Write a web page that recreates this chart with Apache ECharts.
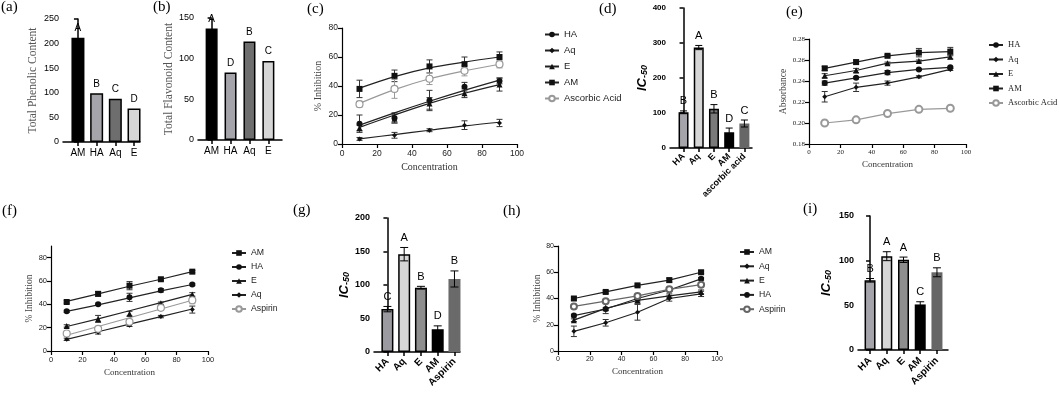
<!DOCTYPE html>
<html><head><meta charset="utf-8">
<script src="https://cdn.jsdelivr.net/npm/echarts@6/dist/echarts.min.js"></script>
<style>html,body{margin:0;padding:0;background:#fff}#c{width:1059px;height:394px}</style>
</head><body><div id="c"></div>
<script>
// ---------- DATA ----------
const concentrations = [10, 30, 50, 70, 90];

// (a) Total phenolic content
const aCats = ['AM', 'HA', 'Aq', 'E'];
const aVals = [212, 99, 88, 68];
const aLetters = ['A', 'B', 'C', 'D'];
// (b) Total flavonoid content
const bCats = ['AM', 'HA', 'Aq', 'E'];
const bVals = [137, 83, 121, 97];
const bLetters = ['A', 'D', 'B', 'C'];
// (c) % inhibition: observed points and fitted curves
const cHA = [14, 18, 30, 39.5, 43.5];      const cHAErr = [6, 3.5, 7, 3, 2];
const cAq = [3.5, 6, 9.5, 13, 14.5];       const cAqErr = [1, 2, 1, 3, 2.5];
const cE = [11, 17.5, 28, 35, 41];         const cEErr = [2, 3, 4, 3, 4.5];
const cAM = [38, 47, 53.5, 55, 60];        const cAMErr = [6, 4, 4.5, 5, 3.5];
const cAsc = [27.5, 38, 45, 50.5, 55];     const cAscErr = [2, 6.5, 4, 3.5, 2.5];
const cHAFit = [13, 21.5, 29.5, 37, 44];
const cAqFit = [3.5, 6.5, 9.5, 12.5, 15];
const cEFit = [11.5, 20, 28, 35, 41];
const cAMFit = [38.5, 46.5, 52.5, 56.5, 60];
const cAscFit = [28, 37.5, 45, 50.5, 55];
// (d) IC50
const dCats = ['HA', 'Aq', 'E', 'AM', 'ascorbic acid'];
const dVals = [102, 287, 112, 45, 70];
const dErr = [4, 6, 12, 12, 10];
const dLetters = ['B', 'A', 'B', 'D', 'C'];
// (e) absorbance
const eHA = [0.238, 0.243, 0.248, 0.251, 0.253];  const eHAErr = [0.002, 0.001, 0.002, 0.001, 0.001];
const eAq = [0.225, 0.234, 0.238, 0.244, 0.251];  const eAqErr = [0.005, 0.004, 0.002, 0.001, 0.001];
const eE = [0.245, 0.250, 0.257, 0.259, 0.263];   const eEErr = [0.002, 0.002, 0.001, 0.001, 0.002];
const eAM = [0.252, 0.258, 0.264, 0.267, 0.268];  const eAMErr = [0.002, 0.002, 0.001, 0.004, 0.004];
const eAsc = [0.200, 0.203, 0.209, 0.213, 0.214]; const eAscErr = [0.001, 0.001, 0.001, 0.002, 0.001];
// (f) % inhibition: observed points and fitted lines
const fAM = [42, 49, 56, 61.5, 68];        const fAMErr = [1, 2, 3.5, 1, 1];
const fHA = [34, 40, 46, 52, 57];          const fHAErr = [1, 1, 3.5, 1.5, 1];
const fE = [21.5, 27.5, 32, 41, 48.5];     const fEErr = [1, 3, 2, 1, 1.5];
const fAq = [10, 16, 22, 29.5, 35.5];      const fAqErr = [1, 1.5, 1, 1, 3];
const fAsp = [15, 19, 25, 37, 43.5];       const fAspErr = [1, 1, 1, 2, 3];
const fAMFit = [42.5, 49, 55.5, 61.5, 68];
const fHAFit = [34, 39.5, 45.5, 51.5, 57];
const fEFit = [21, 27.5, 34.5, 41.5, 48.5];
const fAqFit = [10, 16.5, 23, 29.5, 36];
const fAspFit = [13.5, 21, 28.5, 36, 43.5];
// (g) IC50
const gCats = ['HA', 'Aq', 'E', 'AM', 'Aspirin'];
const gVals = [64, 146, 96, 34, 109];
const gErr = [4, 10, 2, 5, 12];
const gLetters = ['C', 'A', 'B', 'D', 'B'];
// (h) % inhibition
const hAM = [40, 45, 50, 54, 60];          const hAMErr = [1, 1, 1, 1.5, 1];
const hAq = [15, 21.5, 29.5, 40, 43.5];    const hAqErr = [4, 2.5, 6, 2, 2];
const hE = [23.5, 32.5, 38.5, 42, 45];     const hEErr = [1, 4, 2, 1.5, 1.5];
const hHA = [27, 32, 40, 46.5, 55];        const hHAErr = [1, 1, 2, 1, 1];
const hAsp = [34, 38, 42, 47, 50.5];       const hAspErr = [1, 1, 1, 1, 1];
// (i) IC50
const iCats = ['HA', 'Aq', 'E', 'AM', 'Aspirin'];
const iVals = [78, 105, 101, 51, 87];
const iErr = [2, 5, 3, 3, 5];
const iLetters = ['B', 'A', 'A', 'C', 'B'];

// tick values
const pctTicks = [0, 20, 40, 60, 80];
const absTicks = [0.18, 0.20, 0.22, 0.24, 0.26, 0.28];

// ---------- STYLE HELPERS ----------
const SANS = 'Liberation Sans', SERIF = 'Liberation Serif';
const chart = echarts.init(document.getElementById('c'), null, {renderer: 'canvas'});

const grids = [
  {left: 63, top: 19, width: 77, height: 123},   // a
  {left: 198, top: 18, width: 84, height: 122},  // b
  {left: 342, top: 28, width: 175, height: 116}, // c
  {left: 670, top: 8, width: 82, height: 140},   // d
  {left: 809, top: 39, width: 157, height: 105}, // e
  {left: 51, top: 246, width: 157, height: 105}, // f
  {left: 374, top: 218, width: 86, height: 134}, // g
  {left: 558, top: 246, width: 159, height: 105},// h
  {left: 858, top: 216, width: 90, height: 134}  // i
].map(g => Object.assign({outerBoundsMode: 'none', containLabel: false}, g));

function idx(arr) { return arr.map((_, i) => i); }

function barXAxis(gi, cats, min, max, lab) {
  return {
    gridIndex: gi, type: 'value', min, max,
    axisLine: {show: true, onZero: false, lineStyle: {color: '#000', width: 1.5}},
    axisTick: {show: true, length: 4, customValues: idx(cats), lineStyle: {color: '#000', width: 1.5}},
    axisLabel: Object.assign({customValues: idx(cats), formatter: v => cats[Math.round(v)], color: '#000', fontFamily: SANS, margin: 6}, lab),
    splitLine: {show: false}
  };
}
function barYAxis(gi, max, interval, name, nameGap, nameStyle, lab) {
  return {
    gridIndex: gi, type: 'value', min: 0, max, interval,
    axisLine: {show: true, lineStyle: {color: '#000', width: 1.5}},
    axisTick: {show: true, length: 4, lineStyle: {color: '#000', width: 1.5}},
    axisLabel: Object.assign({color: '#000', fontFamily: SANS, margin: 4}, lab),
    splitLine: {show: false},
    name, nameLocation: 'middle', nameGap, nameTextStyle: nameStyle
  };
}
function lineXAxis(gi, lab, nameGap, nameSize) {
  return {
    gridIndex: gi, type: 'value', min: 0, max: 100, interval: 20,
    axisLine: {show: true, onZero: false, lineStyle: {color: '#000', width: 1.2}},
    axisTick: {show: true, length: 4, lineStyle: {color: '#000', width: 1.2}},
    axisLabel: Object.assign({color: '#222', fontFamily: SANS, margin: 5}, lab),
    splitLine: {show: false},
    name: 'Concentration', nameLocation: 'middle', nameGap,
    nameTextStyle: {fontFamily: SERIF, fontSize: nameSize, color: '#333'}
  };
}
function lineYAxis(gi, min, max, ticks, lab, name, nameGap, nameSize) {
  return {
    gridIndex: gi, type: 'value', min, max,
    axisLine: {show: true, onZero: false, lineStyle: {color: '#000', width: 1.2}},
    axisTick: {show: true, length: 4, customValues: ticks, lineStyle: {color: '#000', width: 1.2}},
    axisLabel: Object.assign({customValues: ticks, color: '#222', fontFamily: SANS, margin: 4}, lab),
    splitLine: {show: false},
    name, nameLocation: 'middle', nameGap,
    nameTextStyle: {fontFamily: SERIF, fontSize: nameSize, color: '#444'}
  };
}

function barSeries(gi, cats, vals, colors, bordered, barWidth) {
  return {
    type: 'bar', xAxisIndex: gi, yAxisIndex: gi, barWidth, silent: true, z: 2,
    data: cats.map((c, i) => ({
      value: [i, vals[i]],
      itemStyle: {color: colors[i], borderColor: '#000', borderWidth: bordered[i] ? 1.5 : 0}
    }))
  };
}

function errSeries(gi, xs, ys, es, capHalf, color, letters, letterFont) {
  return {
    type: 'custom', xAxisIndex: gi, yAxisIndex: gi, silent: true, z: 3,
    data: xs.map((x, i) => [x, ys[i], es[i]]),
    renderItem: (params, api) => {
      const x = api.value(0), y = api.value(1), e = api.value(2);
      const top = api.coord([x, y + e]);
      const bot = api.coord([x, y - e]);
      const ch = [];
      if (e > 0) {
        const st = {stroke: color, lineWidth: 1};
        ch.push({type: 'line', shape: {x1: top[0], y1: top[1], x2: bot[0], y2: bot[1]}, style: st});
        ch.push({type: 'line', shape: {x1: top[0] - capHalf, y1: top[1], x2: top[0] + capHalf, y2: top[1]}, style: st});
        ch.push({type: 'line', shape: {x1: bot[0] - capHalf, y1: bot[1], x2: bot[0] + capHalf, y2: bot[1]}, style: st});
      }
      if (letters) {
        ch.push({type: 'text', x: top[0], y: top[1] - 9.5,
          style: {text: letters[params.dataIndex], align: 'center', verticalAlign: 'middle', font: letterFont, fill: '#000'}});
      }
      return {type: 'group', children: ch};
    }
  };
}

const SYM = {
  HA: {symbol: 'circle', size: 6, color: '#111'},
  Aq: {symbol: 'diamond', size: 5, color: '#111'},
  E: {symbol: 'triangle', size: 6, color: '#111'},
  AM: {symbol: 'rect', size: 6, color: '#111'},
  Ascorbic: {symbol: 'emptyCircle', size: 7, color: '#999'},
  AspirinF: {symbol: 'emptyCircle', size: 7, color: '#999'},
  AspirinH: {symbol: 'emptyCircle', size: 6, color: '#666'}
};

function lineSeries(gi, name, key, ys, smooth, hideSymbols) {
  const s = SYM[key];
  return {
    type: 'line', name, xAxisIndex: gi, yAxisIndex: gi, silent: true, z: 4,
    data: concentrations.map((x, i) => [x, ys[i]]),
    symbol: s.symbol, symbolSize: s.size, showSymbol: !hideSymbols,
    smooth: smooth || false,
    itemStyle: {color: s.color, borderWidth: s.symbol === 'emptyCircle' ? 1.2 : 0},
    lineStyle: {color: s.color === '#111' ? '#222' : s.color, width: 1.2}
  };
}
function pointSeries(gi, key, ys) {
  const s = SYM[key];
  const open = s.symbol === 'emptyCircle';
  return {
    type: 'scatter', xAxisIndex: gi, yAxisIndex: gi, silent: true, z: 5,
    data: concentrations.map((x, i) => [x, ys[i]]),
    symbol: open ? 'circle' : s.symbol, symbolSize: s.size,
    itemStyle: {color: open ? '#fff' : s.color, borderColor: s.color, borderWidth: open ? 1.2 : 0, opacity: 1}
  };
}

const strip = n => n.split(':')[1];
function legend(names, left, top, font, fontSize, lineHeight, gap) {
  return {
    data: names, formatter: strip, orient: 'vertical', left, top, padding: 0,
    itemWidth: 14, itemHeight: 7, itemGap: gap, selectedMode: false,
    textStyle: {fontFamily: font, fontSize, color: '#222', lineHeight}
  };
}

const icName = '{i|IC}{s|-50}';
const icStyle = {
  rich: {
    i: {fontFamily: SANS, fontStyle: 'italic', fontWeight: 'bold', fontSize: 13, color: '#000', verticalAlign: 'bottom', lineHeight: 16},
    s: {fontFamily: SANS, fontStyle: 'italic', fontWeight: 'bold', fontSize: 9, color: '#000', verticalAlign: 'bottom', lineHeight: 12}
  }
};

const panelLabels = [['(a)', 1, 0], ['(b)', 153, 0], ['(c)', 307, 2], ['(d)', 599, 2], ['(e)', 786, 5],
                     ['(f)', 2, 204], ['(g)', 293, 203], ['(h)', 503, 204], ['(i)', 803, 202]];

// ---------- OPTION ----------
const option = {
  animation: false,
  backgroundColor: '#fff',
  title: panelLabels.map(p => ({text: p[0], left: p[1], top: p[2], padding: 0,
    textStyle: {fontFamily: SERIF, fontSize: 15, fontWeight: 'normal', color: '#000'}})),
  grid: grids,
  xAxis: [
    barXAxis(0, aCats, -0.8, 3.32, {fontSize: 10}),
    barXAxis(1, bCats, -0.72, 3.72, {fontSize: 10}),
    lineXAxis(2, {fontSize: 8.5}, 18, 10),
    barXAxis(3, dCats, -0.89, 4.5, {fontSize: 9, fontWeight: 'bold', rotate: 45, margin: 7}),
    lineXAxis(4, {fontSize: 7, fontFamily: SERIF}, 16, 9),
    lineXAxis(5, {fontSize: 7.5}, 17, 9),
    barXAxis(6, gCats, -0.8, 4.33, {fontSize: 10, fontWeight: 'bold', rotate: 45, margin: 8}),
    lineXAxis(7, {fontSize: 7}, 16, 9),
    barXAxis(8, iCats, -0.72, 4.66, {fontSize: 10, fontWeight: 'bold', rotate: 45, margin: 9})
  ],
  yAxis: [
    barYAxis(0, 250, 50, 'Total Phenolic Content', 24, {fontFamily: SERIF, fontSize: 11.5, color: '#555'}, {fontSize: 9}),
    barYAxis(1, 150, 50, 'Total Flavonoid Content', 18, {fontFamily: SERIF, fontSize: 11.5, color: '#555'}, {fontSize: 9}),
    lineYAxis(2, 0, 80, pctTicks, {fontSize: 8.5}, '% Inhibition', 19, 10),
    barYAxis(3, 400, 100, icName, 21, icStyle, {fontSize: 8, fontWeight: 'bold'}),
    lineYAxis(4, 0.18, 0.28, absTicks, {fontSize: 7, fontFamily: SERIF, formatter: v => v.toFixed(2)}, 'Absorbance', 20, 9.5),
    lineYAxis(5, 0, 90, pctTicks, {fontSize: 7.5}, '% Inhibition', 17, 9.5),
    barYAxis(6, 200, 50, icName, 23, icStyle, {fontSize: 9, fontWeight: 'bold'}),
    lineYAxis(7, 0, 80, pctTicks, {fontSize: 7}, '% Inhibition', 16, 9.5),
    barYAxis(8, 150, 50, icName, 25, icStyle, {fontSize: 9, fontWeight: 'bold'})
  ],
  legend: [
    legend(['c:HA', 'c:Aq', 'c:E', 'c:AM', 'c:Ascorbic Acid'], 544, 29, SANS, 9.5, 11, 5),
    legend(['e:HA', 'e:Aq', 'e:E', 'e:AM', 'e:Ascorbic Acid'], 988, 40, SERIF, 8.5, 10, 4.5),
    legend(['f:AM', 'f:HA', 'f:E', 'f:Aq', 'f:Aspirin'], 231, 248, SANS, 8.7, 10, 4),
    legend(['h:AM', 'h:Aq', 'h:E', 'h:HA', 'h:Aspirin'], 739, 247, SANS, 8.7, 10, 4.3)
  ],
  series: [
    // (a)
    barSeries(0, aCats, aVals, ['#000', '#a4a4aa', '#6e6e6e', '#d6d6d6'], [1, 1, 1, 1], 13),
    errSeries(0, idx(aCats), aVals, aCats.map(() => 0), 0, '#000', aLetters, '10px ' + SANS),
    // (b)
    barSeries(1, bCats, bVals, ['#000', '#a4a4aa', '#6e6e6e', '#d6d6d6'], [1, 1, 1, 1], 12),
    errSeries(1, idx(bCats), bVals, bCats.map(() => 0), 0, '#000', bLetters, '10px ' + SANS),
    // (c) fitted curves + observed points
    lineSeries(2, 'c:HA', 'HA', cHAFit, 0.35, true),
    lineSeries(2, 'c:Aq', 'Aq', cAqFit, 0.35, true),
    lineSeries(2, 'c:E', 'E', cEFit, 0.35, true),
    lineSeries(2, 'c:AM', 'AM', cAMFit, 0.35, true),
    lineSeries(2, 'c:Ascorbic Acid', 'Ascorbic', cAscFit, 0.35, true),
    errSeries(2, concentrations, cHA, cHAErr, 3, '#333'),
    errSeries(2, concentrations, cAq, cAqErr, 3, '#333'),
    errSeries(2, concentrations, cE, cEErr, 3, '#333'),
    errSeries(2, concentrations, cAM, cAMErr, 3, '#333'),
    errSeries(2, concentrations, cAsc, cAscErr, 3, '#999'),
    pointSeries(2, 'HA', cHA), pointSeries(2, 'Aq', cAq), pointSeries(2, 'E', cE),
    pointSeries(2, 'AM', cAM), pointSeries(2, 'Ascorbic', cAsc),
    // (d)
    barSeries(3, dCats, dVals, ['#a4a4aa', '#d6d6d6', '#7a7a7a', '#000', '#666'], [1, 1, 1, 0, 0], 10),
    errSeries(3, idx(dCats), dVals, dErr, 3.5, '#000', dLetters, '11px ' + SANS),
    // (e)
    lineSeries(4, 'e:HA', 'HA', eHA),
    lineSeries(4, 'e:Aq', 'Aq', eAq),
    lineSeries(4, 'e:E', 'E', eE),
    lineSeries(4, 'e:AM', 'AM', eAM),
    lineSeries(4, 'e:Ascorbic Acid', 'Ascorbic', eAsc),
    errSeries(4, concentrations, eHA, eHAErr, 3, '#333'),
    errSeries(4, concentrations, eAq, eAqErr, 3, '#333'),
    errSeries(4, concentrations, eE, eEErr, 3, '#333'),
    errSeries(4, concentrations, eAM, eAMErr, 3, '#333'),
    errSeries(4, concentrations, eAsc, eAscErr, 3, '#999'),
    // (f) fitted lines + observed points
    lineSeries(5, 'f:AM', 'AM', fAMFit, false, true),
    lineSeries(5, 'f:HA', 'HA', fHAFit, false, true),
    lineSeries(5, 'f:E', 'E', fEFit, false, true),
    lineSeries(5, 'f:Aq', 'Aq', fAqFit, false, true),
    lineSeries(5, 'f:Aspirin', 'AspirinF', fAspFit, false, true),
    errSeries(5, concentrations, fAM, fAMErr, 3, '#333'),
    errSeries(5, concentrations, fHA, fHAErr, 3, '#333'),
    errSeries(5, concentrations, fE, fEErr, 3, '#333'),
    errSeries(5, concentrations, fAq, fAqErr, 3, '#333'),
    errSeries(5, concentrations, fAsp, fAspErr, 3, '#999'),
    pointSeries(5, 'AM', fAM), pointSeries(5, 'HA', fHA), pointSeries(5, 'E', fE),
    pointSeries(5, 'Aq', fAq), pointSeries(5, 'AspirinF', fAsp),
    // (g)
    barSeries(6, gCats, gVals, ['#9a9aa0', '#d6d6d6', '#8e8e8e', '#000', '#6a6a6a'], [1, 1, 1, 0, 0], 12),
    errSeries(6, idx(gCats), gVals, gErr, 4, '#000', gLetters, '11px ' + SANS),
    // (h)
    lineSeries(7, 'h:AM', 'AM', hAM),
    lineSeries(7, 'h:Aq', 'Aq', hAq),
    lineSeries(7, 'h:E', 'E', hE),
    lineSeries(7, 'h:HA', 'HA', hHA),
    lineSeries(7, 'h:Aspirin', 'AspirinH', hAsp),
    errSeries(7, concentrations, hAM, hAMErr, 3, '#333'),
    errSeries(7, concentrations, hAq, hAqErr, 3, '#333'),
    errSeries(7, concentrations, hE, hEErr, 3, '#333'),
    errSeries(7, concentrations, hHA, hHAErr, 3, '#333'),
    errSeries(7, concentrations, hAsp, hAspErr, 3, '#666'),
    // (i)
    barSeries(8, iCats, iVals, ['#a4a4aa', '#d6d6d6', '#8e8e8e', '#000', '#666'], [1, 1, 1, 0, 0], 11),
    errSeries(8, idx(iCats), iVals, iErr, 4, '#000', iLetters, '11px ' + SANS)
  ]
};
chart.setOption(option);
</script>
</body></html>
